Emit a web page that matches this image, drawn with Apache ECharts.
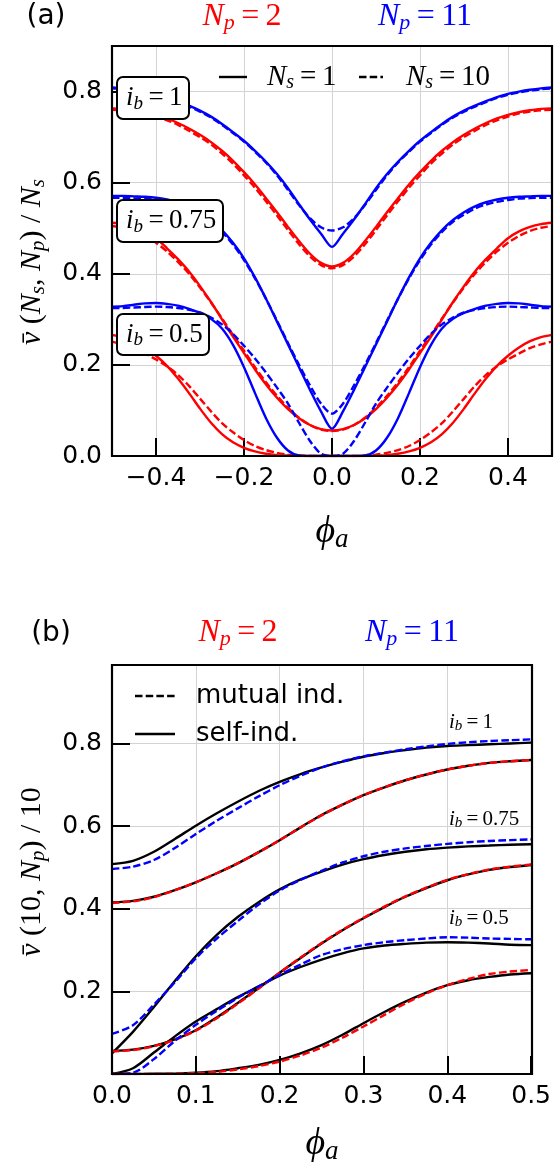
<!DOCTYPE html>
<html>
<head>
<meta charset="utf-8">
<script src="https://cdn.jsdelivr.net/npm/echarts@6/dist/echarts.min.js"></script>
<style>
html,body{margin:0;padding:0;background:#fff}
#c{width:554px;height:1162px}
</style>
</head>
<body>
<div id="c"></div>
<script>
// ---------- panel (a): normalised voltage vs flux, phi_a in [-0.5, 0.5] ----------
const phiA = [-0.5,-0.475,-0.45,-0.425,-0.4,-0.375,-0.35,-0.325,-0.3,-0.275,-0.25,-0.225,-0.2,-0.175,-0.15,-0.125,-0.1,-0.075,-0.05,-0.025,0,
  0.025,0.05,0.075,0.1,0.125,0.15,0.175,0.2,0.225,0.25,0.275,0.3,0.325,0.35,0.375,0.4,0.425,0.45,0.475,0.5];

// Np = 11 (blue), Ns = 1 (solid) and Ns = 10 (dashed)
const a_np11_ib1_ns1  = [0.809,0.807,0.804,0.800,0.795,0.788,0.779,0.769,0.758,0.745,0.729,0.711,0.692,0.670,0.646,0.619,0.588,0.553,0.519,0.488,0.459,0.488,0.519,0.553,0.588,0.619,0.646,0.670,0.692,0.711,0.729,0.745,0.758,0.769,0.779,0.788,0.795,0.800,0.804,0.807,0.809];
const a_np11_ib1_ns10 = [0.807,0.805,0.802,0.798,0.793,0.786,0.777,0.767,0.756,0.743,0.727,0.709,0.690,0.668,0.644,0.616,0.584,0.551,0.522,0.502,0.495,0.502,0.522,0.551,0.584,0.616,0.644,0.668,0.690,0.709,0.727,0.743,0.756,0.767,0.777,0.786,0.793,0.798,0.802,0.805,0.807];
const a_np11_ib75_ns1  = [0.571,0.571,0.570,0.569,0.567,0.563,0.557,0.548,0.535,0.518,0.496,0.468,0.434,0.392,0.345,0.295,0.245,0.195,0.145,0.098,0.060,0.098,0.145,0.195,0.245,0.295,0.345,0.392,0.434,0.468,0.496,0.518,0.535,0.548,0.557,0.563,0.567,0.569,0.570,0.571,0.571];
const a_np11_ib75_ns10 = [0.567,0.567,0.566,0.565,0.562,0.558,0.552,0.543,0.530,0.514,0.492,0.464,0.430,0.390,0.345,0.297,0.248,0.200,0.155,0.115,0.093,0.115,0.155,0.200,0.248,0.297,0.345,0.390,0.430,0.464,0.492,0.514,0.530,0.543,0.552,0.558,0.562,0.565,0.566,0.567,0.567];
const a_np11_ib5_ns1  = [0.328,0.329,0.332,0.335,0.336,0.334,0.330,0.323,0.314,0.301,0.280,0.244,0.195,0.138,0.083,0.040,0.012,0.001,0,0,0,0,0,0.001,0.012,0.040,0.083,0.138,0.195,0.244,0.280,0.301,0.314,0.323,0.330,0.334,0.336,0.335,0.332,0.329,0.328];
const a_np11_ib5_ns10 = [0.325,0.325,0.326,0.327,0.328,0.327,0.325,0.321,0.315,0.304,0.289,0.268,0.242,0.214,0.183,0.150,0.115,0.073,0.033,0.005,0,0.005,0.033,0.073,0.115,0.150,0.183,0.214,0.242,0.268,0.289,0.304,0.315,0.321,0.325,0.327,0.328,0.327,0.326,0.325,0.325];

// Np = 2 (red)
const a_np2_ib1_ns1  = [0.763,0.762,0.759,0.755,0.749,0.741,0.731,0.719,0.705,0.689,0.670,0.648,0.623,0.596,0.566,0.535,0.503,0.472,0.444,0.424,0.416,0.424,0.444,0.472,0.503,0.535,0.566,0.596,0.623,0.648,0.670,0.689,0.705,0.719,0.731,0.741,0.749,0.755,0.759,0.762,0.763];
const a_np2_ib1_ns10 = [0.760,0.759,0.756,0.752,0.745,0.737,0.727,0.714,0.700,0.684,0.664,0.642,0.616,0.589,0.559,0.528,0.496,0.465,0.438,0.419,0.412,0.419,0.438,0.465,0.496,0.528,0.559,0.589,0.616,0.642,0.664,0.684,0.700,0.714,0.727,0.737,0.745,0.752,0.756,0.759,0.760];
const a_np2_ib75_ns1  = [0.512,0.509,0.503,0.493,0.478,0.456,0.432,0.405,0.373,0.338,0.300,0.262,0.226,0.190,0.157,0.128,0.103,0.083,0.068,0.059,0.056,0.059,0.068,0.083,0.103,0.128,0.157,0.190,0.226,0.262,0.300,0.338,0.373,0.405,0.432,0.456,0.478,0.493,0.503,0.509,0.512];
const a_np2_ib75_ns10 = [0.505,0.501,0.494,0.483,0.468,0.449,0.426,0.400,0.370,0.337,0.302,0.266,0.231,0.195,0.162,0.132,0.106,0.084,0.068,0.058,0.055,0.058,0.068,0.084,0.106,0.132,0.162,0.195,0.231,0.266,0.302,0.337,0.370,0.400,0.426,0.449,0.468,0.483,0.494,0.501,0.505];
const a_np2_ib5_ns1  = [0.266,0.261,0.252,0.238,0.220,0.198,0.170,0.138,0.104,0.073,0.048,0.030,0.018,0.010,0.005,0.002,0.001,0,0,0,0,0,0,0,0.001,0.002,0.005,0.010,0.018,0.030,0.048,0.073,0.104,0.138,0.170,0.198,0.220,0.238,0.252,0.261,0.266];
const a_np2_ib5_ns10 = [0.251,0.245,0.237,0.225,0.212,0.197,0.178,0.154,0.126,0.098,0.072,0.052,0.035,0.022,0.013,0.007,0.003,0.001,0,0,0,0,0,0.001,0.003,0.007,0.013,0.022,0.035,0.052,0.072,0.098,0.126,0.154,0.178,0.197,0.212,0.225,0.237,0.245,0.251];

// ---------- panel (b): Ns = 10, self vs mutual inductance, phi_a in [0, 0.5] ----------
const phiB = [0,0.025,0.05,0.075,0.1,0.125,0.15,0.175,0.2,0.225,0.25,0.275,0.3,0.325,0.35,0.375,0.4,0.425,0.45,0.475,0.5];

const b_np11_ib1_self   = [0.508,0.516,0.538,0.569,0.601,0.631,0.659,0.685,0.707,0.726,0.742,0.756,0.768,0.777,0.784,0.790,0.794,0.796,0.798,0.800,0.802];
const b_np11_ib1_mut    = [0.496,0.502,0.518,0.547,0.581,0.613,0.643,0.672,0.699,0.722,0.742,0.757,0.769,0.778,0.786,0.793,0.799,0.803,0.806,0.808,0.810];
const b_np2_ib1_self    = [0.415,0.419,0.429,0.445,0.464,0.486,0.510,0.537,0.566,0.597,0.627,0.652,0.675,0.694,0.711,0.725,0.737,0.746,0.753,0.757,0.760];
const b_np2_ib1_mut     = [0.414,0.418,0.428,0.445,0.464,0.486,0.510,0.537,0.566,0.597,0.626,0.652,0.675,0.694,0.711,0.725,0.737,0.746,0.753,0.757,0.760];
const b_np11_ib75_self  = [0.050,0.102,0.162,0.225,0.285,0.337,0.380,0.416,0.447,0.471,0.490,0.507,0.520,0.530,0.538,0.544,0.548,0.551,0.553,0.555,0.556];
const b_np11_ib75_mut   = [0.097,0.118,0.168,0.222,0.280,0.328,0.370,0.410,0.444,0.470,0.492,0.512,0.527,0.538,0.546,0.552,0.557,0.561,0.564,0.566,0.568];
const b_np2_ib75_self   = [0.056,0.059,0.068,0.084,0.106,0.137,0.172,0.208,0.245,0.281,0.316,0.348,0.377,0.404,0.429,0.450,0.469,0.483,0.494,0.501,0.506];
const b_np2_ib75_mut    = [0.055,0.058,0.067,0.083,0.105,0.135,0.170,0.207,0.245,0.282,0.317,0.349,0.378,0.405,0.430,0.451,0.470,0.484,0.495,0.502,0.507];
const b_np11_ib5_self   = [0,0.014,0.052,0.091,0.127,0.157,0.186,0.212,0.238,0.259,0.277,0.292,0.304,0.311,0.315,0.318,0.319,0.318,0.316,0.313,0.312];
const b_np11_ib5_mut    = [0,0.003,0.036,0.080,0.119,0.153,0.184,0.212,0.240,0.265,0.288,0.302,0.312,0.319,0.324,0.328,0.331,0.330,0.328,0.327,0.326];
const b_np2_ib5_self    = [0,0,0.0005,0.001,0.003,0.007,0.014,0.022,0.034,0.050,0.070,0.095,0.123,0.150,0.175,0.197,0.215,0.227,0.235,0.241,0.244];
const b_np2_ib5_mut     = [0,0,0,0.001,0.002,0.005,0.011,0.019,0.030,0.045,0.064,0.088,0.115,0.143,0.171,0.195,0.215,0.230,0.242,0.248,0.252];

// ---------- styling ----------
const RED = '#ff0000', BLUE = '#0000ff', BLACK = '#000000';
const SANS = "'DejaVu Sans', sans-serif";
const SERIF = "'Liberation Serif', 'DejaVu Serif', serif";
const DASH = [7.5, 3.2];
const LW = 2.4;
const EQ = '\u2009=\u2009';   // thin spaces around the equals sign, as in typeset math

const GA = {left: 112, top: 46, width: 440, height: 410};
const GB = {left: 112, top: 665, width: 420, height: 409};

const pairs = (xs, ys) => xs.map((x, i) => [x, ys[i]]);
const tickFmt = v => (Math.abs(v) < 1e-9 ? 0 : v).toFixed(1).replace('-', '\u2212');

function line(name, grid, xs, ys, color, dashed, z) {
  return {
    name, type: 'line', xAxisIndex: grid, yAxisIndex: grid,
    data: pairs(xs, ys), showSymbol: false, symbol: 'none', smooth: 0.3,
    lineStyle: {color, width: LW, type: dashed ? DASH : 'solid'},
    z: z || 2, silent: true, animation: false
  };
}

const series = [
  line('np2 ib1 ns1', 0, phiA, a_np2_ib1_ns1, RED, false),
  line('np2 ib1 ns10', 0, phiA, a_np2_ib1_ns10, RED, true),
  line('np2 ib75 ns1', 0, phiA, a_np2_ib75_ns1, RED, false),
  line('np2 ib75 ns10', 0, phiA, a_np2_ib75_ns10, RED, true),
  line('np2 ib5 ns1', 0, phiA, a_np2_ib5_ns1, RED, false),
  line('np2 ib5 ns10', 0, phiA, a_np2_ib5_ns10, RED, true),
  line('np11 ib1 ns1', 0, phiA, a_np11_ib1_ns1, BLUE, false),
  line('np11 ib1 ns10', 0, phiA, a_np11_ib1_ns10, BLUE, true),
  line('np11 ib75 ns1', 0, phiA, a_np11_ib75_ns1, BLUE, false),
  line('np11 ib75 ns10', 0, phiA, a_np11_ib75_ns10, BLUE, true),
  line('np11 ib5 ns1', 0, phiA, a_np11_ib5_ns1, BLUE, false),
  line('np11 ib5 ns10', 0, phiA, a_np11_ib5_ns10, BLUE, true),

  line('b np11 ib1 self', 1, phiB, b_np11_ib1_self, BLACK, false),
  line('b np2 ib1 self', 1, phiB, b_np2_ib1_self, BLACK, false),
  line('b np11 ib75 self', 1, phiB, b_np11_ib75_self, BLACK, false),
  line('b np2 ib75 self', 1, phiB, b_np2_ib75_self, BLACK, false),
  line('b np11 ib5 self', 1, phiB, b_np11_ib5_self, BLACK, false),
  line('b np2 ib5 self', 1, phiB, b_np2_ib5_self, BLACK, false),
  line('b np11 ib1 mut', 1, phiB, b_np11_ib1_mut, BLUE, true, 3),
  line('b np2 ib1 mut', 1, phiB, b_np2_ib1_mut, RED, true, 3),
  line('b np11 ib75 mut', 1, phiB, b_np11_ib75_mut, BLUE, true, 3),
  line('b np2 ib75 mut', 1, phiB, b_np2_ib75_mut, RED, true, 3),
  line('b np11 ib5 mut', 1, phiB, b_np11_ib5_mut, BLUE, true, 3),
  line('b np2 ib5 mut', 1, phiB, b_np2_ib5_mut, RED, true, 3)
];

function makeAxis(grid, min, max, extra, labelOpts) {
  return Object.assign({
    type: 'value', gridIndex: grid, min, max,
    axisLine: {show: false, onZero: false},
    axisTick: {show: true, inside: true, length: 18, lineStyle: {color: '#000', width: 2}},
    axisLabel: Object.assign({color: '#000', fontFamily: SANS, fontSize: 25, margin: 10, formatter: tickFmt}, labelOpts || {}),
    splitLine: {show: true, lineStyle: {color: '#d3d3d3', width: 1}}
  }, extra || {});
}
const xa0 = makeAxis(0, -0.5, 0.5, {splitNumber: 5}, {showMinLabel: false, showMaxLabel: false});
const xa1 = makeAxis(1, 0, 0.5, {interval: 0.1});
const ya0 = makeAxis(0, 0, 0.9, {interval: 0.2}, {showMaxLabel: false});
const ya1 = makeAxis(1, 0, 0.99, {interval: 0.2}, {showMinLabel: false, showMaxLabel: false});

// rich-text helpers for math-style labels
function mathRich(fs, color) {
  return {
    i: {fontFamily: SERIF, fontStyle: 'italic', fontSize: fs, fill: color},
    s: {fontFamily: SERIF, fontStyle: 'italic', fontSize: Math.round(fs * 0.7), fill: color, padding: [Math.round(fs * 0.42), 0, 0, 0]},
    r: {fontFamily: SERIF, fontSize: fs, fill: color}
  };
}
function mathText(x, y, text, fs, color, opts) {
  opts = opts || {};
  return {
    type: 'text', x, y, rotation: opts.rotation || 0, z: 200, silent: true,
    style: {text, rich: mathRich(fs, color), align: opts.align || 'center', verticalAlign: 'middle', fill: color}
  };
}
function plainText(x, y, text, fs, opts) {
  opts = opts || {};
  return {
    type: 'text', x, y, z: 200, silent: true,
    style: {text, fontFamily: SANS, fontSize: fs, fill: '#000', align: opts.align || 'center', verticalAlign: 'middle'}
  };
}
function seg(x1, x2, y, dashed) {
  return {type: 'line', z: 200, silent: true, shape: {x1, y1: y, x2, y2: y},
    style: {stroke: '#000', lineWidth: LW, lineDash: dashed ? DASH : null}};
}
function frame(g) {
  return {type: 'rect', z: 150, silent: true, shape: {x: g.left, y: g.top, width: g.width, height: g.height},
    style: {fill: 'none', stroke: '#000', lineWidth: 2.2}};
}
function labelBox(x, y, w, h, text) {
  return [
    {type: 'rect', z: 180, silent: true, shape: {x, y, width: w, height: h, r: 6},
      style: {fill: '#fff', stroke: '#000', lineWidth: 2}},
    mathText(x + 9, y + h / 2, text, 27, '#000', {align: 'left'})
  ];
}

const graphics = [
  frame(GA), frame(GB),
  plainText(46, 17, '(a)', 28),
  plainText(51, 634, '(b)', 28),
  mathText(242, 17, '{i|N}{s|p}{r|' + EQ + '2}', 32, RED),
  mathText(425, 17, '{i|N}{s|p}{r|' + EQ + '11}', 32, BLUE),
  mathText(238, 633, '{i|N}{s|p}{r|' + EQ + '2}', 32, RED),
  mathText(412, 633, '{i|N}{s|p}{r|' + EQ + '11}', 32, BLUE),

  // panel (a) legend
  seg(219, 247, 77, false),
  mathText(267, 77, '{i|N}{s|s}{r|' + EQ + '1}', 29, '#000', {align: 'left'}),
  seg(359, 383, 77, true),
  mathText(406, 77, '{i|N}{s|s}{r|' + EQ + '10}', 29, '#000', {align: 'left'}),
  ...labelBox(117, 77, 72, 42, '{i|i}{s|b}{r|' + EQ + '1}'),
  ...labelBox(117, 200, 106, 42, '{i|i}{s|b}{r|' + EQ + '0.75}'),
  ...labelBox(117, 314, 92, 41, '{i|i}{s|b}{r|' + EQ + '0.5}'),

  // panel (b) legend and annotations
  seg(135, 175, 696, true),
  plainText(196, 696, 'mutual ind.', 26, {align: 'left'}),
  seg(135, 175, 734, false),
  plainText(196, 734, 'self-ind.', 26, {align: 'left'}),
  mathText(449, 722, '{i|i}{s|b}{r|' + EQ + '1}', 21, '#000', {align: 'left'}),
  mathText(449, 819, '{i|i}{s|b}{r|' + EQ + '0.75}', 21, '#000', {align: 'left'}),
  mathText(449, 918, '{i|i}{s|b}{r|' + EQ + '0.5}', 21, '#000', {align: 'left'}),

  // axis titles
  mathText(332, 532, '{i|\u03d5}{s|a}', 38, '#000'),
  mathText(322, 1144, '{i|\u03d5}{s|a}', 38, '#000'),
  mathText(32, 262, '{i|v\u0304}{r| (}{i|N}{s|s}{r|, }{i|N}{s|p}{r|) / }{i|N}{s|s}', 30, '#000', {rotation: Math.PI / 2}),
  mathText(32, 872, '{i|v\u0304}{r| (10, }{i|N}{s|p}{r|) / 10}', 30, '#000', {rotation: Math.PI / 2})
];

const chart = echarts.init(document.getElementById('c'), null, {renderer: 'canvas'});
chart.setOption({
  animation: false,
  backgroundColor: '#fff',
  grid: [
    Object.assign({containLabel: false}, GA),
    Object.assign({containLabel: false}, GB)
  ],
  xAxis: [xa0, xa1],
  yAxis: [ya0, ya1],
  series,
  graphic: graphics
});
</script>
</body>
</html>
